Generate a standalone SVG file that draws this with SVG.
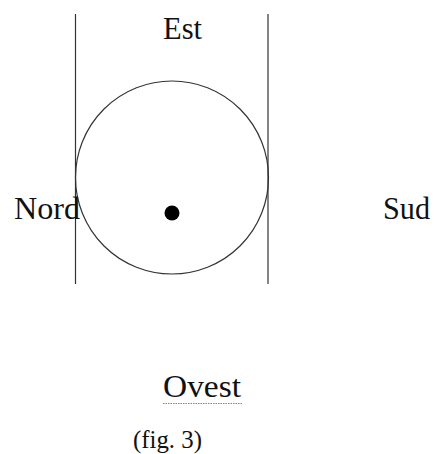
<svg xmlns="http://www.w3.org/2000/svg" width="434" height="454" viewBox="0 0 434 454">
<style>
.t{font-family:"Liberation Serif","Times New Roman",serif;font-size:32px;fill:#111}
.ln{stroke:#333;stroke-width:1.2;fill:none}
</style>
<rect width="434" height="454" fill="#fff"/>
<g id="connectors">
<line class="ln" x1="75.5" y1="14" x2="75.5" y2="284"/>
<line class="ln" x1="268" y1="14" x2="268" y2="284"/>
</g>
<g id="circle"><circle class="ln" cx="172" cy="177.5" r="96.5"/></g>
<g id="dot"><circle cx="172" cy="213" r="7.5" fill="#000"/></g>
<g id="est"><text class="t" x="163" y="38.5" textLength="39" lengthAdjust="spacingAndGlyphs">Est</text></g>
<g id="nord"><text class="t" x="14" y="219" textLength="66" lengthAdjust="spacingAndGlyphs">Nord</text></g>
<g id="sud"><text class="t" x="383" y="218.5" textLength="47" lengthAdjust="spacingAndGlyphs">Sud</text></g>
<g id="ovest"><text class="t" x="163" y="397" textLength="78" lengthAdjust="spacingAndGlyphs">Ovest</text>
<line x1="163" y1="403.5" x2="243" y2="403.5" stroke="#e05a5a" stroke-width="1" stroke-dasharray="1.5,1"/></g>
<g id="fig"><text class="t" x="133" y="448" style="font-size:26px" textLength="69" lengthAdjust="spacingAndGlyphs">(fig. 3)</text></g>
</svg>
